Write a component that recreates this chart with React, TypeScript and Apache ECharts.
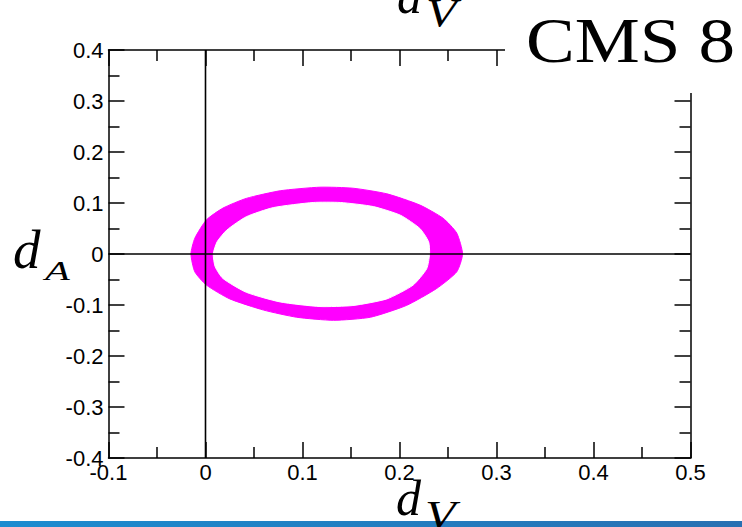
import React, { useEffect, useRef } from "react";
import * as echarts from "echarts";

// Axis ranges / ticks
const X_MIN = -0.1;
const X_MAX = 0.5;
const Y_MIN = -0.4;
const Y_MAX = 0.4;
const TICK_STEP = 0.1;

// Outer boundary of the allowed (d_V, d_A) band
const OUTER_VX = [0.265, 0.259, 0.245, 0.221, 0.187, 0.152, 0.118, 0.077, 0.042, 0.018, 0.001, -0.011, -0.015, -0.011, 0.001, 0.025, 0.060, 0.094, 0.132, 0.170, 0.207, 0.238, 0.259];
const OUTER_VY = [0, 0.041, 0.070, 0.096, 0.118, 0.129, 0.131, 0.124, 0.109, 0.090, 0.067, 0.031, 0, -0.035, -0.061, -0.088, -0.110, -0.124, -0.130, -0.124, -0.101, -0.068, -0.035];

// Inner boundary (hole) of the band
const INNER_VX = [0.231, 0.230, 0.221, 0.201, 0.173, 0.139, 0.111, 0.070, 0.042, 0.022, 0.012, 0.008, 0.010, 0.018, 0.042, 0.077, 0.118, 0.152, 0.187, 0.214, 0.228];
const INNER_VY = [0, 0.024, 0.050, 0.076, 0.093, 0.101, 0.101, 0.091, 0.073, 0.047, 0.024, 0, -0.025, -0.048, -0.075, -0.094, -0.103, -0.101, -0.088, -0.061, -0.029];

// Zero reference lines
const ZERO_H = [[X_MIN, 0], [X_MAX, 0]];
const ZERO_V = [[0, Y_MIN], [0, Y_MAX]];

const TITLE = "CMS 8";

const fmt = (v: number) => {
  const r = Math.round(v * 10) / 10;
  return r === 0 ? "0" : String(r);
};

function polySeries(xs: number[], ys: number[], color: string, z: number) {
  const data = xs.map((x, i) => [x, ys[i]]);
  return {
    type: "custom",
    z,
    silent: true,
    data,
    renderItem: (params: any, api: any) => {
      if (params.dataIndex !== 0) return null;
      const pts = data.map((p) => api.coord(p));
      return {
        type: "polygon",
        shape: { points: pts, smooth: 0.2 },
        style: { fill: color, stroke: color, lineWidth: 1 },
      };
    },
  };
}

const axisCommon = (labels: boolean, isX: boolean) => ({
  min: isX ? X_MIN : Y_MIN,
  max: isX ? X_MAX : Y_MAX,
  interval: TICK_STEP,
  axisLine: { show: true, onZero: false, lineStyle: { color: "#000", width: 1.5 } },
  axisTick: { show: true, inside: true, length: 16, lineStyle: { color: "#000", width: 1.5 } },
  minorTick: { show: true, splitNumber: 2, length: 11, lineStyle: { color: "#000", width: 1.5 } },
  splitLine: { show: false },
  minorSplitLine: { show: false },
  axisLabel: {
    show: labels,
    color: "#000",
    fontFamily: "Liberation Sans, Arial, sans-serif",
    fontSize: 22,
    margin: isX ? 3 : 5,
    formatter: fmt,
  },
});

export default function App() {
  const ref = useRef<HTMLDivElement>(null);
  useEffect(() => {
    if (!ref.current) return;
    const chart = echarts.init(ref.current, undefined, { renderer: "svg" });
    const serif = "Liberation Serif, Times New Roman, serif";
    chart.setOption({
      animation: false,
      backgroundColor: "#fff",
      grid: { left: 108.5, top: 50, width: 582, height: 408, containLabel: false },
      xAxis: [
        { type: "value", position: "bottom", ...axisCommon(true, true) },
        { type: "value", position: "top", ...axisCommon(false, true) },
      ],
      yAxis: [
        { type: "value", position: "left", ...axisCommon(true, false) },
        { type: "value", position: "right", ...axisCommon(false, false) },
      ],
      series: [
        polySeries(OUTER_VX, OUTER_VY, "#ff00ff", 2),
        polySeries(INNER_VX, INNER_VY, "#ffffff", 3),
        {
          type: "line",
          z: 5,
          silent: true,
          symbol: "none",
          data: ZERO_H,
          lineStyle: { color: "#000", width: 1.6 },
        },
        {
          type: "line",
          z: 5,
          silent: true,
          symbol: "none",
          data: ZERO_V,
          lineStyle: { color: "#000", width: 1.6 },
        },
      ],
      graphic: [
        { type: "rect", z: 100, shape: { x: 505, y: 0, width: 237, height: 93 }, style: { fill: "#fff" } },
        {
          type: "text", z: 101, x: 526, y: 41, scaleX: 1.16,
          style: { text: TITLE, x: 0, y: 0, fill: "#000", font: `63px ${serif}`, align: "left", verticalAlign: "middle" },
        },
        // top (cut) d_V label
        {
          type: "text", z: 101, x: 397, y: -4,
          style: { text: "d", x: 0, y: 0, fill: "#000", font: `italic 50px ${serif}`, align: "left", verticalAlign: "middle" },
        },
        {
          type: "text", z: 101, x: 426, y: 13, scaleX: 1.25,
          style: { text: "V", x: 0, y: 0, fill: "#000", font: `italic 40px ${serif}`, align: "left", verticalAlign: "middle" },
        },
        // d_A label
        {
          type: "text", z: 101, x: 13, y: 249,
          style: { text: "d", x: 0, y: 0, fill: "#000", font: `italic 55px ${serif}`, align: "left", verticalAlign: "middle" },
        },
        {
          type: "text", z: 101, x: 45, y: 271, scaleX: 1.45,
          style: { text: "A", x: 0, y: 0, fill: "#000", font: `italic 28px ${serif}`, align: "left", verticalAlign: "middle" },
        },
        // bottom bar
        {
          type: "rect", z: 100, shape: { x: 0, y: 521, width: 742, height: 6 },
          style: {
            fill: new echarts.graphic.LinearGradient(0, 0, 1, 0, [
              { offset: 0, color: "#1b8cd0" },
              { offset: 1, color: "#2870b2" },
            ]),
          },
        },
        // bottom d_V label
        {
          type: "text", z: 101, x: 396, y: 498,
          style: { text: "d", x: 0, y: 0, fill: "#000", font: `italic 50px ${serif}`, align: "left", verticalAlign: "middle" },
        },
        {
          type: "text", z: 101, x: 425, y: 515, scaleX: 1.25,
          style: { text: "V", x: 0, y: 0, fill: "#000", font: `italic 40px ${serif}`, align: "left", verticalAlign: "middle" },
        },
      ],
    });
    return () => chart.dispose();
  }, []);
  return (
    <div
      ref={ref}
      style={{ position: "fixed", left: 0, top: 0, width: 742, height: 527, background: "#fff" }}
    />
  );
}
